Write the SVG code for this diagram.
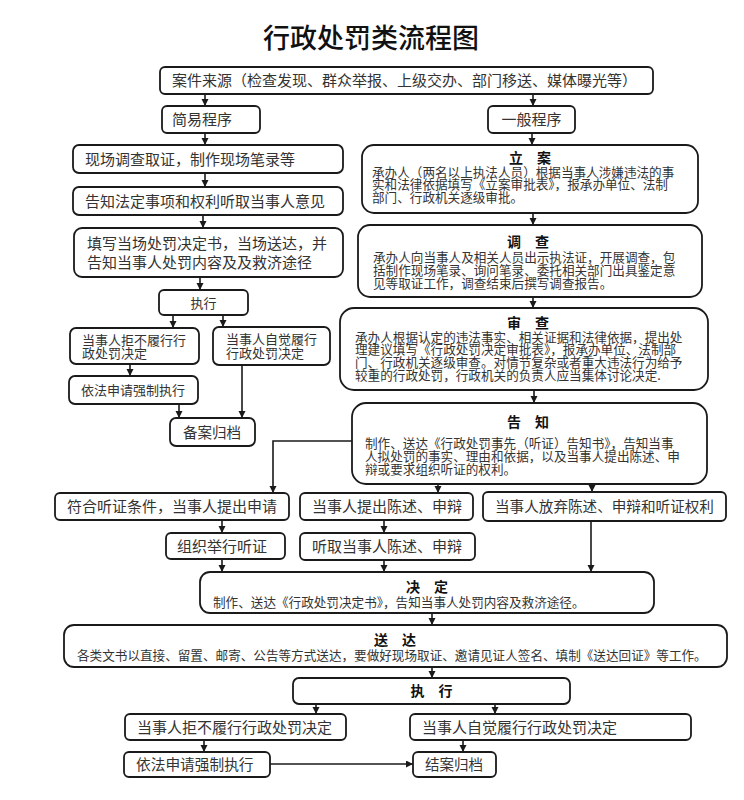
<svg xmlns="http://www.w3.org/2000/svg" width="744" height="800" viewBox="0 0 744 800">
<style>
.b{fill:#fff;stroke:#1a1a1a;stroke-width:1.8}
.t{font-family:"Noto Sans CJK SC","Noto Sans CJK JP",sans-serif;fill:#333;font-size:15px}
.s{font-size:12.6px}
.m{font-size:13px}
.h{font-family:"Noto Sans CJK SC",sans-serif;fill:#111;font-size:14px;font-weight:bold;text-anchor:middle}
.c{fill:none;stroke:#1a1a1a;stroke-width:1.6}
</style>
<defs>
<marker id="a" markerUnits="userSpaceOnUse" markerWidth="8" markerHeight="8" refX="7" refY="3.5" orient="auto">
<path d="M0,0 L7,3.5 L0,7 z" fill="#1a1a1a"/>
</marker>
</defs>
<rect width="744" height="800" fill="#fff"/>
<text x="371" y="48" text-anchor="middle" font-family="Noto Sans CJK SC,sans-serif" font-size="27" font-weight="500" fill="#111">行政处罚类流程图</text>

<g id="connectors" class="c" marker-end="url(#a)">
<line x1="205" y1="94" x2="205" y2="106"/>
<line x1="533" y1="94" x2="533" y2="106"/>
<line x1="205" y1="133" x2="205" y2="145"/>
<line x1="205" y1="173" x2="205" y2="187"/>
<line x1="203" y1="215" x2="203" y2="228"/>
<line x1="200" y1="277" x2="200" y2="290"/>
<line x1="173" y1="315" x2="173" y2="328"/>
<line x1="223" y1="315" x2="223" y2="327"/>
<line x1="130" y1="364" x2="130" y2="376"/>
<line x1="179" y1="404" x2="179" y2="418"/>
<line x1="242" y1="365" x2="242" y2="418"/>
<line x1="532" y1="133" x2="532" y2="145"/>
<line x1="533" y1="213" x2="533" y2="225"/>
<line x1="533" y1="297" x2="533" y2="308"/>
<line x1="534" y1="390" x2="534" y2="403"/>
<polyline points="352,441 273,441 273,493"/>
<line x1="438" y1="484" x2="438" y2="493"/>
<line x1="592" y1="484" x2="592" y2="492"/>
<line x1="222" y1="520" x2="222" y2="533"/>
<line x1="384" y1="520" x2="384" y2="533"/>
<line x1="222" y1="559" x2="222" y2="572"/>
<line x1="384" y1="560" x2="384" y2="572"/>
<line x1="591" y1="521" x2="591" y2="572"/>
<line x1="432" y1="613" x2="432" y2="625"/>
<line x1="432" y1="667" x2="432" y2="678"/>
<line x1="316" y1="704" x2="316" y2="714"/>
<line x1="495" y1="704" x2="495" y2="714"/>
<line x1="204" y1="740" x2="204" y2="752"/>
<line x1="463" y1="740" x2="463" y2="752"/>
<line x1="270" y1="764" x2="413" y2="764"/>
</g>

<g id="source"><rect class="b" x="160" y="67" width="493" height="27" rx="5"/><text class="t" x="172" y="86">案件来源（检查发现、群众举报、上级交办、部门移送、媒体曝光等）</text></g>
<g id="simple"><rect class="b" x="162" y="106" width="98" height="27" rx="5"/><text class="t" x="172" y="125">简易程序</text></g>
<g id="general"><rect class="b" x="488" y="106" width="87" height="27" rx="5"/><text class="t" x="531.5" y="125" text-anchor="middle">一般程序</text></g>
<g id="s1"><rect class="b" x="73" y="145" width="270" height="28" rx="6"/><text class="t" x="85" y="164.7">现场调查取证，制作现场笔录等</text></g>
<g id="s2"><rect class="b" x="73" y="187" width="270" height="28" rx="6"/><text class="t" x="85" y="206.7">告知法定事项和权利听取当事人意见</text></g>
<g id="s3"><rect class="b" x="74" y="228" width="269" height="49" rx="8"/><text class="t" x="87" y="248.7">填写当场处罚决定书，当场送达，并</text><text class="t" x="87" y="267.7">告知当事人处罚内容及及救济途径</text></g>
<g id="s4"><rect class="b" x="159" y="290" width="89" height="25" rx="5"/><text class="t m" x="203.5" y="307.5" text-anchor="middle">执行</text></g>
<g id="s5"><rect class="b" x="70" y="328" width="129" height="36" rx="6"/><text class="t m" x="82" y="345">当事人拒不履行行</text><text class="t m" x="82" y="358">政处罚决定</text></g>
<g id="s6"><rect class="b" x="213" y="327" width="117" height="38" rx="6"/><text class="t m" x="226" y="344.3">当事人自觉履行</text><text class="t m" x="226" y="357.7">行政处罚决定</text></g>
<g id="s7"><rect class="b" x="69" y="376" width="129" height="28" rx="6"/><text class="t m" x="81" y="395">依法申请强制执行</text></g>
<g id="s8"><rect class="b" x="170" y="418" width="85" height="28" rx="6"/><text class="t" style="font-size:14.5px" x="183" y="437.5">备案归档</text></g>

<g id="g1"><rect class="b" x="362" y="145" width="336" height="68" rx="12"/><text class="h" x="530" y="163">立　案</text>
<text class="t s" x="372" y="176.8">承办人（两名以上执法人员）根据当事人涉嫌违法的事</text>
<text class="t s" x="372" y="189.3">实和法律依据填写《立案审批表》，报承办单位、法制</text>
<text class="t s" x="372" y="201.8">部门、行政机关逐级审批。</text></g>
<g id="g2"><rect class="b" x="358" y="225" width="344" height="72" rx="12"/><text class="h" x="528" y="247">调　查</text>
<text class="t s" x="373" y="261.8">承办人向当事人及相关人员出示执法证，开展调查，包</text>
<text class="t s" x="373" y="274.8">括制作现场笔录、询问笔录、委托相关部门出具鉴定意</text>
<text class="t s" x="373" y="287.8">见等取证工作，调查结束后撰写调查报告。</text></g>
<g id="g3"><rect class="b" x="340" y="308" width="368" height="82" rx="14"/><text class="h" x="528" y="328">审　查</text>
<text class="t s" x="355" y="341.8">承办人根据认定的违法事实、相关证据和法律依据，提出处</text>
<text class="t s" x="355" y="354.3">理建议填写《行政处罚决定审批表》，报承办单位、法制部</text>
<text class="t s" x="355" y="366.8">门、行政机关逐级审查。对情节复杂或者重大违法行为给予</text>
<text class="t s" x="355" y="379.8">较重的行政处罚，行政机关的负责人应当集体讨论决定.</text></g>
<g id="g4"><rect class="b" x="352" y="403" width="355" height="81" rx="14"/><text class="h" x="528" y="427">告　知</text>
<text class="t s" x="365" y="447.8">制作、送达《行政处罚事先（听证）告知书》，告知当事</text>
<text class="t s" x="365" y="460.8">人拟处罚的事实、理由和依据，以及当事人提出陈述、申</text>
<text class="t s" x="365" y="473.8">辩或要求组织听证的权利。</text></g>

<g id="h1"><rect class="b" x="55" y="493" width="234" height="27" rx="5"/><text class="t" x="67" y="512">符合听证条件，当事人提出申请</text></g>
<g id="h2"><rect class="b" x="300" y="493" width="173" height="27" rx="5"/><text class="t" x="312" y="512">当事人提出陈述、申辩</text></g>
<g id="h3"><rect class="b" x="483" y="492" width="243" height="29" rx="5"/><text class="t" style="font-size:14.6px" x="495" y="512">当事人放弃陈述、申辩和听证权利</text></g>
<g id="h4"><rect class="b" x="166" y="533" width="119" height="26" rx="5"/><text class="t" x="177" y="551.7">组织举行听证</text></g>
<g id="h5"><rect class="b" x="300" y="533" width="175" height="27" rx="5"/><text class="t" x="312" y="552">听取当事人陈述、申辩</text></g>

<g id="d1"><rect class="b" x="200" y="572" width="454" height="41" rx="10"/><text class="h" x="427" y="592">决　定</text>
<text class="t s" x="213" y="606.7">制作、送达《行政处罚决定书》，告知当事人处罚内容及救济途径。</text></g>
<g id="d2"><rect class="b" x="64" y="625" width="663" height="42" rx="10"/><text class="h" x="395" y="645">送　达</text>
<text class="t s" x="77" y="659.7">各类文书以直接、留置、邮寄、公告等方式送达，要做好现场取证、邀请见证人签名、填制《送达回证》等工作。</text></g>
<g id="e1"><rect class="b" x="293" y="678" width="277" height="26" rx="6"/><text class="h" x="431.5" y="696">执　行</text></g>
<g id="e2"><rect class="b" x="125" y="714" width="221" height="26" rx="5"/><text class="t" x="137" y="732.7">当事人拒不履行行政处罚决定</text></g>
<g id="e3"><rect class="b" x="410" y="714" width="281" height="26" rx="5"/><text class="t" x="422" y="732.7">当事人自觉履行行政处罚决定</text></g>
<g id="e4"><rect class="b" x="124" y="752" width="146" height="25" rx="5"/><text class="t" style="font-size:14.7px" x="136" y="770">依法申请强制执行</text></g>
<g id="e5"><rect class="b" x="413" y="752" width="83" height="25" rx="5"/><text class="t" style="font-size:14.5px" x="425" y="770">结案归档</text></g>
</svg>
